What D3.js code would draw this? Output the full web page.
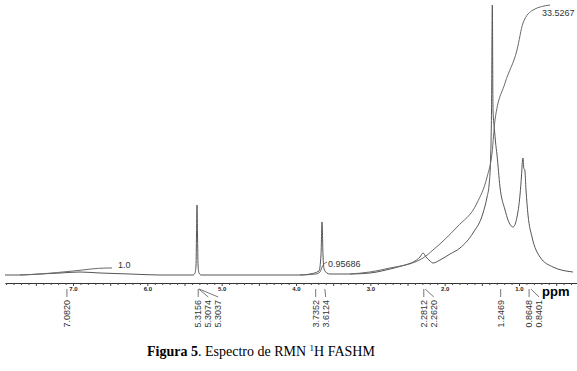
<!DOCTYPE html>
<html>
<head>
<meta charset="utf-8">
<script src="https://cdn.jsdelivr.net/npm/d3@7"></script>
<style>
  body { margin: 0; background: #fff; }
  svg { display: block; }
  .axis .domain { stroke: #333; }
  .axis .tick line { stroke: #444; }
  .axis .tick text { font-family: "Liberation Sans", Arial, sans-serif; font-size: 6px; font-weight: bold; fill: #222; }
  .peak-label, .int-label { font-family: "Liberation Sans", Arial, sans-serif; font-size: 9px; fill: #333; }
  .title { font-family: "Liberation Serif", "Times New Roman", serif; font-size: 14px; fill: #000; }
</style>
</head>
<body>
<svg id="chart" width="577" height="371"></svg>
<script>
// 1H NMR trace: chemical shift (ppm) and intensity (a.u.)
const specPpm = [7.915, 7.713, 7.444, 7.175, 6.906, 6.637, 6.233, 5.830, 5.561, 5.386,
  5.359, 5.345, 5.339, 5.332, 5.325, 5.318, 5.305, 5.278, 4.619, 3.946,
  3.812, 3.691, 3.664, 3.650, 3.637, 3.623, 3.583, 3.543, 3.408, 3.274,
  3.005, 2.735, 2.534, 2.399, 2.332, 2.291, 2.251, 2.197, 2.157, 2.063,
  1.928, 1.794, 1.619, 1.484, 1.430, 1.403, 1.383, 1.370, 1.359, 1.350,
  1.330, 1.316, 1.296, 1.256, 1.188, 1.148, 1.081, 1.027, 0.987, 0.966,
  0.953, 0.946, 0.936, 0.922, 0.906, 0.879, 0.825, 0.718, 0.543, 0.274];
const specInt = [0, 0, 1, 2, 3, 2, 1, 0, 0, 0,
  2, 10, 40, 70, 40, 10, 2, 0, 0, 0,
  1, 4, 20, 53, 20, 6, 2, 1, 1, 1,
  2, 6, 10, 14, 18, 22, 18, 14, 12, 15,
  21, 27, 42, 62, 78, 90, 115, 165, 270, 165,
  145, 133, 120, 88, 65, 55, 48, 58, 80, 100,
  115, 117, 107, 105, 85, 60, 38, 18, 8, 3];

// integral curves (same intensity units)
const int1Ppm = [7.713, 7.444, 7.000, 6.543, 6.475];
const int1Val = [0, 1, 4, 7, 7];
const int2Ppm = [3.946, 3.731, 3.677, 3.650, 3.623, 3.583];
const int2Val = [0, 1, 3, 8, 11, 13];
const int3Ppm = [3.274, 3.005, 2.735, 2.399, 2.291, 2.157, 1.834, 1.565, 1.430, 1.363,
  1.323, 1.188, 1.027, 0.946, 0.812, 0.583];
const int3Val = [1, 3, 7, 13, 17, 25, 48, 72, 98, 122, 155, 192, 225, 252, 265, 270];
const integralLabels = ["1.0", "0.95686", "33.5267"];

// peak picking labels
const peakLabels = [7.0820, 5.3156, 5.3074, 5.3037, 3.7352, 3.6124, 2.2812, 2.2620, 1.2469, 0.8648, 0.8401];

const svg = d3.select("#chart");

const x = d3.scaleLinear().domain([7.915, 0.22]).range([5, 577]);
const y = d3.scaleLinear().domain([0, 270]).range([275, 5]);
const axisY = 283;

const line = d3.line()
  .x(d => x(d[0]))
  .y(d => y(d[1]))
  .curve(d3.curveMonotoneX);

// spectrum
svg.append("path")
  .datum(d3.zip(specPpm, specInt))
  .attr("fill", "none")
  .attr("stroke", "#555")
  .attr("stroke-width", 1)
  .attr("d", line);

// integrals
const integrals = [d3.zip(int1Ppm, int1Val), d3.zip(int2Ppm, int2Val), d3.zip(int3Ppm, int3Val)];
const labelDx = [6, 1, -8];
const labelDy = [0, 5, 11];
integrals.forEach((pts, i) => {
  svg.append("path")
    .datum(pts)
    .attr("fill", "none")
    .attr("stroke", "#6a6a6a")
    .attr("stroke-width", 1)
    .attr("d", line);
  const end = pts[pts.length - 1];
  svg.append("text")
    .attr("class", "int-label")
    .attr("x", x(end[0]) + labelDx[i])
    .attr("y", y(end[1]) + labelDy[i])
    .text(integralLabels[i]);
});

// ppm axis, minor ticks every 0.1 ppm
const tickValues = d3.range(3, 80).map(i => i / 10);
const isMajor = d => Math.abs(d - Math.round(d)) < 1e-6;
const axisG = svg.append("g")
  .attr("class", "axis")
  .attr("transform", `translate(0,${axisY})`)
  .call(d3.axisBottom(x)
    .tickValues(tickValues)
    .tickSize(2)
    .tickSizeOuter(0)
    .tickPadding(2)
    .tickFormat(d => isMajor(d) ? d3.format(".1f")(d) : ""));
axisG.selectAll(".tick line").attr("y2", d => (Math.abs(d * 2 - Math.round(d * 2)) < 1e-6) ? 3 : 2);

svg.append("text")
  .attr("x", 542)
  .attr("y", 296)
  .style("font-family", "'Liberation Sans', Arial, sans-serif")
  .style("font-size", "13px")
  .style("font-weight", "bold")
  .text("ppm");

// peak labels, pushed apart so they don't overlap
let prev = -Infinity;
const labelX = peakLabels.map(v => {
  const px = Math.max(x(v), prev + 10);
  prev = px;
  return px;
});

const peaks = svg.append("g");
peakLabels.forEach((v, i) => {
  peaks.append("line")
    .attr("x1", x(v)).attr("y1", 289)
    .attr("x2", labelX[i]).attr("y2", 297)
    .attr("stroke", "#555")
    .attr("stroke-width", 0.8);
  peaks.append("text")
    .attr("class", "peak-label")
    .attr("transform", `translate(${labelX[i]},300) rotate(-90)`)
    .attr("text-anchor", "end")
    .attr("dy", "0.35em")
    .text(d3.format(".4f")(v));
});

// caption
const title = svg.append("text")
  .attr("class", "title")
  .attr("x", 147)
  .attr("y", 356);
title.append("tspan").style("font-weight", "bold").text("Figura 5");
title.append("tspan").text(". Espectro de RMN ");
title.append("tspan").attr("dy", -5).style("font-size", "9px").text("1");
title.append("tspan").attr("dy", 5).text("H FASHM");
</script>
</body>
</html>
